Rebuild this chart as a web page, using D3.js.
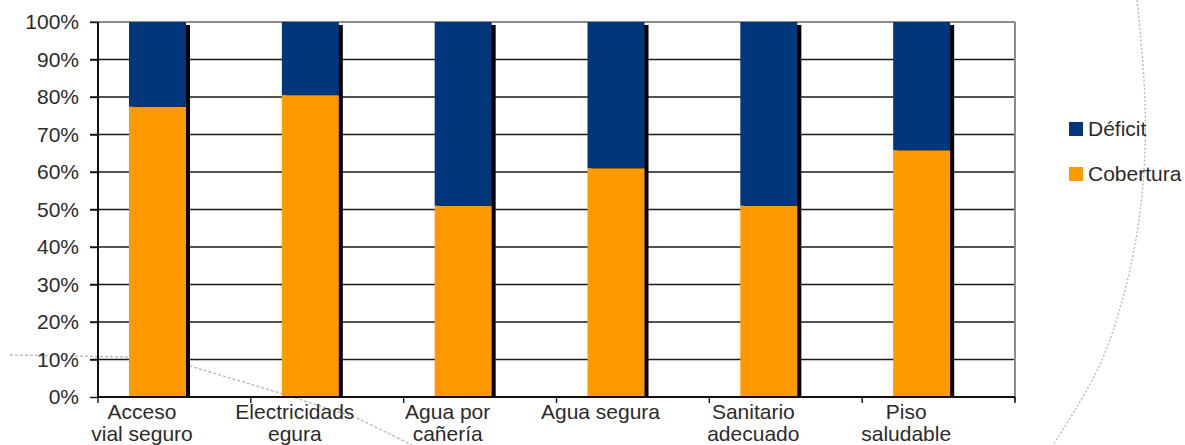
<!DOCTYPE html>
<html>
<head>
<meta charset="utf-8">
<script src="https://cdn.jsdelivr.net/npm/d3@7"></script>
<style>
  html, body { margin: 0; padding: 0; background: #fff; }
  svg { display: block; }
  text { font-family: "Liberation Sans", Arial, sans-serif; fill: #2b2b2b; }
</style>
</head>
<body>
<svg id="chart" width="1185" height="445"></svg>
<script>
// ---- data ----
const categories = ["Acceso vial seguro", "Electricidads egura", "Agua por cañería", "Agua segura", "Sanitario adecuado", "Piso saludable"];
const categoryLines = [["Acceso", "vial seguro"], ["Electricidads", "egura"], ["Agua por", "cañería"], ["Agua segura"], ["Sanitario", "adecuado"], ["Piso", "saludable"]];
const cobertura = [77.4, 80.5, 51.0, 61.0, 51.0, 65.8];
const deficit = [22.6, 19.5, 49.0, 39.0, 49.0, 34.2];
const seriesNames = ["Déficit", "Cobertura"];
const seriesColors = ["#00377a", "#ff9900"];
const yTicks = [0, 10, 20, 30, 40, 50, 60, 70, 80, 90, 100];

// ---- layout ----
const svg = d3.select("#chart");
const mLeft = 98, mRight = 1015, mTop = 22, mBottom = 397;
const fontSize = 21;

const x = d3.scaleBand().domain(categories).range([mLeft, mRight]).paddingInner(0).paddingOuter(0);
const y = d3.scaleLinear().domain([0, 100]).range([mBottom, mTop]);

const barOffset = 31, barWidth = 57;

// decorative slide lines
const deco = d3.line().curve(d3.curveCatmullRom);
svg.append("path")
  .attr("d", deco([[1137,0],[1144,80],[1145,150],[1139,220],[1125,290],[1102,360],[1075,410],[1053,445]]))
  .attr("fill", "none").attr("stroke", "#b5b5b5").attr("stroke-width", 1.3).attr("stroke-dasharray", "2,2");

// gridlines
svg.append("g").selectAll("line").data(yTicks.filter(d => d > 0 && d < 100)).join("line")
  .attr("x1", mLeft - 8).attr("x2", mRight)
  .attr("y1", d => y(d)).attr("y2", d => y(d))
  .attr("stroke", "#1a1a1a").attr("stroke-width", 1.4);

svg.append("path")
  .attr("d", d3.line()([[10,355],[125,357],[190,366],[280,393],[357,418],[412,445]]))
  .attr("fill", "none").attr("stroke", "#b5b5b5").attr("stroke-width", 1.3).attr("stroke-dasharray", "3,2");

// top & right frame
svg.append("line").attr("x1", mLeft - 8).attr("x2", mRight).attr("y1", y(100)).attr("y2", y(100))
  .attr("stroke", "#8c8c8c").attr("stroke-width", 2);
svg.append("line").attr("x1", mRight).attr("x2", mRight).attr("y1", y(100)).attr("y2", mBottom + 4)
  .attr("stroke", "#8c8c8c").attr("stroke-width", 2);

// bars
const g = svg.append("g");
categories.forEach((c, i) => {
  const x0 = x(c) + barOffset;
  // shadow
  g.append("rect").attr("x", x0 + 4).attr("y", y(100) + 3).attr("width", barWidth)
    .attr("height", y(0) - y(100) - 3).attr("fill", "#000");
  // cobertura
  g.append("rect").attr("x", x0).attr("y", y(cobertura[i])).attr("width", barWidth)
    .attr("height", y(0) - y(cobertura[i])).attr("fill", seriesColors[1]);
  // deficit
  g.append("rect").attr("x", x0).attr("y", y(cobertura[i] + deficit[i])).attr("width", barWidth)
    .attr("height", y(cobertura[i]) - y(cobertura[i] + deficit[i])).attr("fill", seriesColors[0]);
});

// y axis
const yAxis = d3.axisLeft(y).tickValues(yTicks).tickFormat(d => d + "%").tickSize(8).tickPadding(11);
const ya = svg.append("g").attr("transform", `translate(${mLeft},0)`).call(yAxis);
ya.select(".domain").attr("stroke", "#111").attr("stroke-width", 2).attr("d", `M0,${mTop}V${mBottom}`);
ya.selectAll(".tick line").attr("stroke", "#111").attr("stroke-width", 1.4);
ya.selectAll(".tick text").attr("font-size", fontSize).attr("fill", "#2b2b2b")
  .attr("font-family", "'Liberation Sans', Arial, sans-serif");

// x axis (ticks at category boundaries)
const boundaries = categories.map(c => x(c)).concat([mRight]);
svg.append("line").attr("x1", mLeft).attr("x2", mRight).attr("y1", mBottom).attr("y2", mBottom)
  .attr("stroke", "#111").attr("stroke-width", 2);
svg.append("g").selectAll("line").data(boundaries).join("line")
  .attr("x1", d => d).attr("x2", d => d).attr("y1", mBottom).attr("y2", mBottom + 6)
  .attr("stroke", "#111").attr("stroke-width", 1.4);

// category labels
const lab = svg.append("g");
categories.forEach((c, i) => {
  const cx = x(c) + 44;
  const t = lab.append("text").attr("text-anchor", "middle").attr("font-size", fontSize);
  categoryLines[i].forEach((line, j) => {
    t.append("tspan").attr("x", cx).attr("y", mBottom + 22 + j * 22).text(line);
  });
});

// legend
const legend = svg.append("g");
seriesNames.forEach((s, i) => {
  const ly = 122 + i * 45;
  legend.append("rect").attr("x", 1069).attr("y", ly).attr("width", 14).attr("height", 14).attr("fill", seriesColors[i]);
  legend.append("text").attr("x", 1088).attr("y", ly + 14).attr("font-size", fontSize).text(s);
});
</script>
</body>
</html>
